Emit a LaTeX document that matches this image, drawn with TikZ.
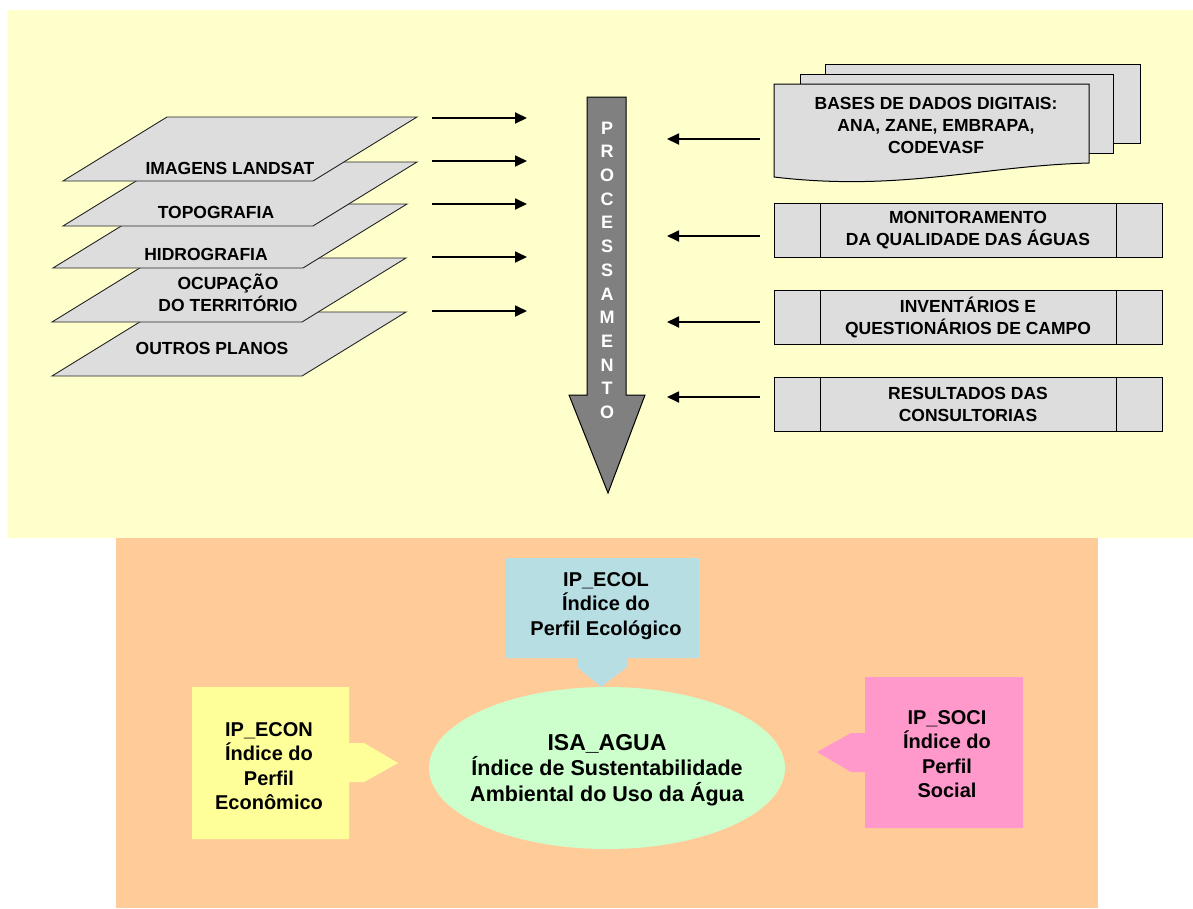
\documentclass[tikz,border=0pt]{standalone}
\usepackage{fontspec}
\setmainfont{Liberation Sans}
\usepackage{tikz}
\usetikzlibrary{arrows.meta}
\usetikzlibrary{shapes.geometric,positioning}
\definecolor{fundo}{HTML}{FFFFCC}
\definecolor{laranja}{HTML}{FFCC99}
\definecolor{cinza}{HTML}{DDDDDD}
\definecolor{cinzaesc}{HTML}{808080}
\definecolor{azul}{HTML}{B7DFE3}
\definecolor{amarelo}{HTML}{FFFF99}
\definecolor{rosa}{HTML}{FF99CC}
\definecolor{verde}{HTML}{CCFFCC}

\begin{document}
\begin{tikzpicture}[x=1pt,y=-1pt,
  plano/.style={draw=black!85,fill=cinza,line width=0.9pt},
  seta/.style={line width=1.8pt,-{Triangle[length=12pt,width=11pt]}},
  texto/.style={font=\fontsize{17.5}{22}\selectfont\bfseries,align=center,inner sep=0pt},
  indice/.style={font=\fontsize{20}{24.5}\selectfont\bfseries,align=center,inner sep=0pt},
  processo/.style={draw,fill=cinza,line width=1pt,minimum width=388,minimum height=54,inner sep=0pt,texto}]
\useasboundingbox (0,0) rectangle (1193,908);
\fill[fundo] (8,10) rectangle (1193,538);%fundo amarelo
\fill[laranja] (116,538) rectangle (1098,908);%fundo laranja
% planos de informacao
\foreach \x/\y in {52/376,52/322,53/268,63/226,63/181}
  \draw[plano] (\x,\y) -- ++(250,0) -- ++(104,-64) -- ++(-250,0) -- cycle;
\node[texto] (landsat) at (230,168) {IMAGENS LANDSAT};
\node[texto] (topo) at (216,212) {TOPOGRAFIA};
\node[texto] (hidro) at (206,254) {HIDROGRAFIA};
\node[texto] (ocupa) at (228,293) {OCUPAÇÃO\\DO TERRITÓRIO};
\node[texto] (outros) at (212,348) {OUTROS PLANOS};
\foreach \y [count=\i] in {118,161,204,257,311}{
  \coordinate (a\i) at (432,\y);
  \coordinate (b\i) at (527,\y);
  \draw[seta] (a\i) -- (b\i);
}
% seta do processamento
\draw[fill=cinzaesc,line width=1pt] (587,97) -- (626,97) -- (626,395) -- (645,395)
  -- (608,493) -- (569,395) -- (587,395) -- cycle;
\foreach \letra [count=\i] in {P,R,O,C,E,S,S,A,M,E,N,T,O}
  \node[font=\fontsize{18}{18}\selectfont\bfseries,text=white,inner sep=0pt] (l\i) at (607,{128+23.7*(\i-1)}) {\letra};
% bases de dados
\draw[fill=cinza,line width=1pt] (825,64) rectangle (1140,143);
\draw[fill=cinza,line width=1pt] (800,74) rectangle (1113,153);
\draw[fill=cinza,line width=1pt] (774,84) -- (1089,84) -- (1089,163)
  .. controls (980,166) and (900,192) .. (774,177) -- cycle;
\node[texto] (bases) at (936,125) {BASES DE DADOS DIGITAIS:\\ANA, ZANE, EMBRAPA,\\CODEVASF};
\node[processo] (monit) at (968,230.5) {MONITORAMENTO\\DA QUALIDADE DAS ÁGUAS};
\node[processo] (invent) at (968,317) {INVENTÁRIOS E\\QUESTIONÁRIOS DE CAMPO};
\node[processo] (result) at (968,404) {RESULTADOS DAS\\CONSULTORIAS};
\foreach \n in {monit,invent,result}{
  \draw[line width=1pt] ([xshift=47pt]\n.north west) -- ([xshift=47pt]\n.south west);
  \draw[line width=1pt] ([xshift=-46pt]\n.north east) -- ([xshift=-46pt]\n.south east);
}
\foreach \y [count=\i] in {139,236,322,397}{
  \coordinate (c\i) at (760,\y);
  \coordinate (d\i) at (667,\y);
  \draw[seta] (c\i) -- (d\i);
}
% indices
\fill[azul] (505,558) -- (699,558) -- (699,658) -- (627,658) -- (627,667) -- (601,687)
  -- (577,667) -- (577,658) -- (505,658) -- cycle;
\node[indice] (ecol) at (606,606) {IP\_ECOL\\Índice do\\Perfil Ecológico};
\fill[amarelo] (192,687) -- (349,687) -- (349,743) -- (364,743) -- (398,763) -- (364,782)
  -- (349,782) -- (349,839) -- (192,839) -- cycle;
\node[indice] (econ) at (269,766) {IP\_ECON\\Índice do\\Perfil\\Econômico};
\fill[rosa] (865,677) -- (1023,677) -- (1023,828) -- (865,828) -- (865,772) -- (851,772)
  -- (817,752) -- (851,733) -- (865,733) -- cycle;
\node[indice] (soci) at (947,754) {IP\_SOCI\\Índice do\\Perfil\\Social};
\node[ellipse,fill=verde,minimum width=356,minimum height=162,inner sep=0pt] (isa) at (607,768) {};
\node[font=\fontsize{21.5}{25.5}\selectfont\bfseries,align=center,inner sep=0pt] (isatexto) at (607,770)
  {{\fontsize{23}{25.5}\selectfont ISA\_AGUA}\\Índice de Sustentabilidade\\Ambiental do Uso da Água};
\end{tikzpicture}
\end{document}
